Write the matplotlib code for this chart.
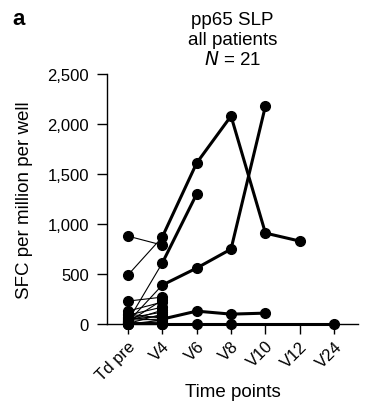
import numpy as np
import matplotlib.pyplot as plt
from matplotlib.ticker import FuncFormatter

plt.rcParams['font.family'] = ['Liberation Sans', 'DejaVu Sans']

timepoints = ["Td pre", "V4", "V6", "V8", "V10", "V12", "V24"]
nan = np.nan

# SFC per million per well, one row per patient (NaN = not measured)
patients = [
    [490, 870, 1610, 2080, 910, 830, nan],
    [880, 790, nan, nan, nan, nan, nan],
    [30, 610, 1300, nan, nan, nan, nan],
    [20, 390, 560, 750, 2180, nan, nan],
    [230, 270, nan, nan, nan, nan, nan],
    [40, 50, 130, 100, 110, nan, nan],
    [10, 0, 0, 0, nan, nan, 0],
    [130, 220, nan, nan, nan, nan, nan],
    [90, 170, nan, nan, nan, nan, nan],
    [60, 120, nan, nan, nan, nan, nan],
    [20, 240, nan, nan, nan, nan, nan],
    [50, 80, nan, nan, nan, nan, nan],
    [0, 40, nan, nan, nan, nan, nan],
    [10, 20, nan, nan, nan, nan, nan],
    [70, 30, nan, nan, nan, nan, nan],
    [0, 10, nan, nan, nan, nan, nan],
    [100, 60, nan, nan, nan, nan, nan],
    [0, 0, nan, nan, nan, nan, nan],
    [30, 140, nan, nan, nan, nan, nan],
    [5, 100, nan, nan, nan, nan, nan],
    [15, 5, nan, nan, nan, nan, nan],
]

fig = plt.figure(figsize=(3.66, 4.10), dpi=100)
ax = fig.add_axes([0.292, 0.207, 0.686, 0.61])

x = np.arange(len(timepoints))
for p in patients:
    y = np.array(p, dtype=float)
    ok = ~np.isnan(y)
    xs, ys = x[ok], y[ok]
    # Td pre -> V4 thin, afterwards thick
    ax.plot(xs[:2], ys[:2], color='black', lw=0.8, clip_on=False, zorder=2)
    if len(xs) > 2:
        ax.plot(xs[1:], ys[1:], color='black', lw=2.2, clip_on=False, zorder=2)
    ax.plot(xs, ys, 'o', color='black', ms=7, clip_on=False, zorder=3)

ax.set_xlim(-0.61, 6.69)
ax.set_ylim(0, 2500)
ax.set_yticks([0, 500, 1000, 1500, 2000, 2500])
ax.yaxis.set_major_formatter(FuncFormatter(lambda v, pos: f"{int(v):,}"))
ax.set_xticks(x)
ax.set_xticklabels(timepoints, rotation=45, ha='right', rotation_mode='anchor')
ax.tick_params(labelsize=12, length=7, width=1, colors='black')
ax.tick_params(axis='y', pad=6)
ax.tick_params(axis='x', pad=3)
for s in ['top', 'right']:
    ax.spines[s].set_visible(False)
for s in ['left', 'bottom']:
    ax.spines[s].set_linewidth(1)

ax.set_ylabel("SFC per million per well", fontsize=13.5, labelpad=10)
ax.set_xlabel("Time points", fontsize=13.5, labelpad=0)
ax.set_title("pp65 SLP\nall patients\n$\\it{N}$ = 21", fontsize=13.5, pad=7,
             linespacing=1.2)
fig.text(0.035, 0.94, "a", fontsize=16, fontweight='bold')

fig.savefig("out.png", dpi=100)
